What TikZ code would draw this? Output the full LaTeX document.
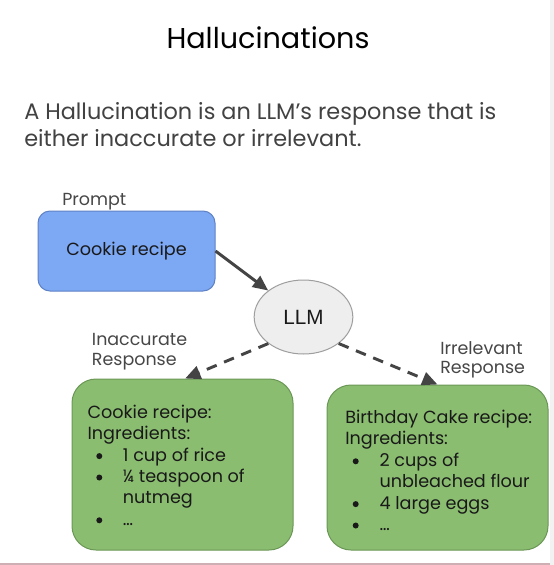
\documentclass[tikz,border=0pt]{standalone}
\usepackage{fontspec}
\setmainfont{Poppins}
\newfontfamily\llmfont{Liberation Sans}
\usetikzlibrary{arrows.meta,shapes.geometric}
\definecolor{bluefill}{HTML}{7CA8F4}
\definecolor{blueline}{HTML}{5F82C6}
\definecolor{greenfill}{HTML}{8ABD70}
\definecolor{greenline}{HTML}{6B9756}
\definecolor{ellfill}{HTML}{EEEEEE}
\definecolor{ellline}{HTML}{9E9E9E}
\definecolor{arrowcol}{HTML}{444444}
\definecolor{subtext}{HTML}{424242}
\definecolor{labeltext}{HTML}{474747}
\definecolor{striprgt}{HTML}{F2F2F2}
\definecolor{bottomline}{HTML}{CDAFB4}
\begin{document}
\begin{tikzpicture}[x=0.75pt,y=-0.75pt,
  titletext/.style={font=\fontsize{21.5}{26}\selectfont, text=black, inner sep=0, anchor=base},
  subtitletext/.style={font=\fontsize{16.8}{20}\selectfont, text=subtext, inner sep=0, anchor=base west},
  labeltxt/.style={font=\fontsize{13.1}{16}\selectfont, text=labeltext, inner sep=0, anchor=base west},
  boxtext/.style={font=\fontsize{13.2}{16}\selectfont, text=black!90, inner sep=0, anchor=base west},
  bulletdot/.style={circle, fill=black!90, inner sep=0, minimum size=4.5pt},
  promptbox/.style={draw=blueline, fill=bluefill, line width=0.75pt, rounded corners=9pt,
    inner sep=0, minimum width=132.75pt, minimum height=60pt, font=\fontsize{13.2}{16}\selectfont, text=black!90},
  answerbox/.style={draw=greenline, fill=greenfill, line width=0.75pt, rounded corners=18pt,
    inner sep=0, minimum width=165.75pt},
  llmnode/.style={ellipse, draw=ellline, fill=ellfill, line width=0.75pt, inner sep=0,
    minimum width=74pt, minimum height=55.5pt, font=\llmfont\fontsize{15.5}{18}\selectfont, text=black!90},
  solidarrow/.style={draw=arrowcol, line width=2.2pt, -{Triangle[length=11.5pt,width=10pt]}},
  dasharrow/.style={draw=arrowcol, line width=2.2pt, dash pattern=on 8pt off 6pt, -{Triangle[length=11.5pt,width=10pt]}}
]
\useasboundingbox (0,0) rectangle (554,565);
\fill[white] (0,0) rectangle (554,565);
\fill[striprgt] (549.5,0) rectangle (554,565);
\draw[bottomline, line width=1.2pt] (0,564) -- (549.5,564);

% title and subtitle
\node[titletext] (title) at (268,48.3) {Hallucinations};
\node[subtitletext] (sub1) at (24,119.3) {A Hallucination is an LLM’s response that is};
\node[subtitletext] (sub2) at (24,146) {either inaccurate or irrelevant.};

% prompt
\node[labeltxt] (promptlbl) at (62,205) {Prompt};
\node[promptbox] (prompt) at (126.5,251) {Cookie recipe};

% LLM
\node[llmnode] (llm) at (303.5,317) {LLM};

% answer boxes
\node[answerbox, minimum height=128.25pt] (inacc) at (182.5,464.5) {};
\node[answerbox, minimum height=123.75pt] (irrel) at (437.5,467.5) {};

% labels
\node[labeltxt] (inacclbl1) at (91.7,345.7) {Inaccurate};
\node[labeltxt] (inacclbl2) at (91.7,365) {Response};
\node[labeltxt] (irrellbl1) at (440,354) {Irrelevant};
\node[labeltxt] (irrellbl2) at (440,373) {Response};

% connectors
\draw[solidarrow] (prompt.east) -- (llm);
\draw[dasharrow] (llm.217) -- ([xshift=2pt]inacc.north);
\draw[dasharrow] (llm.323) -- (irrel.north);

% left box text
\node[boxtext] (l1) at (87.3,418.3) {Cookie recipe:};
\node[boxtext] (l2) at (87.3,439.7) {Ingredients:};
\node[bulletdot] (lb1) at (99.3,456.1) {};
\node[boxtext] (l3) at (122.7,461.1) {1 cup of rice};
\node[bulletdot] (lb2) at (99.3,477.5) {};
\node[boxtext] (l4) at (122.7,482.5) {¼ teaspoon of};
\node[boxtext] (l5) at (122.7,503.9) {nutmeg};
\node[bulletdot] (lb3) at (99.3,520.3) {};
\node[boxtext] (l6) at (122.7,525.3) {…};

% right box text
\node[boxtext] (r1) at (345,423.5) {Birthday Cake recipe:};
\node[boxtext] (r2) at (345,444.9) {Ingredients:};
\node[bulletdot] (rb1) at (355.7,461.3) {};
\node[boxtext] (r3) at (379.3,466.3) {2 cups of};
\node[boxtext] (r4) at (379.3,487.7) {unbleached flour};
\node[bulletdot] (rb2) at (355.7,504.1) {};
\node[boxtext] (r5) at (379.3,509.1) {4 large eggs};
\node[bulletdot] (rb3) at (355.7,525.5) {};
\node[boxtext] (r6) at (379.3,530.5) {…};
\end{tikzpicture}
\end{document}
